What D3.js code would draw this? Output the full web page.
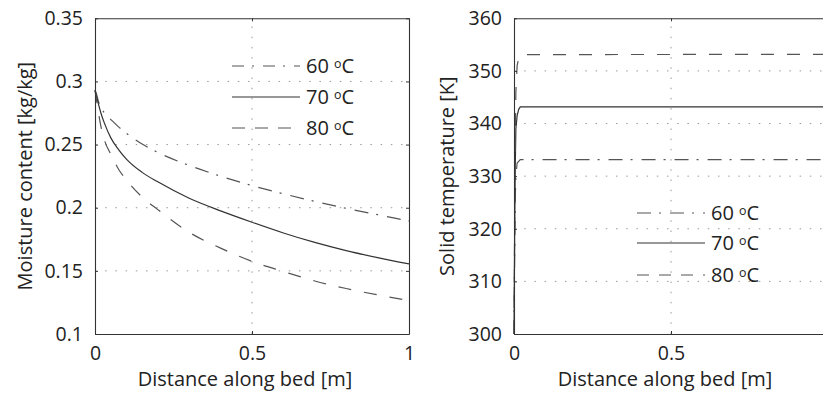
<!DOCTYPE html>
<html>
<head>
<meta charset="utf-8">
<script src="https://cdn.jsdelivr.net/npm/d3@7/dist/d3.min.js"></script>
<style>
  html, body { margin: 0; padding: 0; background: #fff; overflow: hidden; }
  svg { display: block; font-family: "Open Sans", sans-serif; }
</style>
</head>
<body>
<svg id="chart" width="823" height="394"></svg>
<script>
// ---------- data ----------
const xDist = [0, 0.005, 0.01, 0.02, 0.03, 0.05, 0.075, 0.1, 0.15, 0.2, 0.3, 0.4, 0.5, 0.6, 0.7, 0.8, 0.9, 1.0];
const moist60 = [0.293, 0.290, 0.285, 0.279, 0.275, 0.270, 0.264, 0.259, 0.2505, 0.2438, 0.2335, 0.225, 0.2175, 0.211, 0.205, 0.1995, 0.1945, 0.1895];
const moist70 = [0.293, 0.288, 0.283, 0.274, 0.267, 0.2555, 0.246, 0.2385, 0.228, 0.2205, 0.2075, 0.1975, 0.1885, 0.180, 0.1725, 0.166, 0.1605, 0.1555];
const moist80 = [0.293, 0.285, 0.277, 0.263, 0.2535, 0.2425, 0.2305, 0.222, 0.2085, 0.1985, 0.1805, 0.168, 0.1575, 0.1495, 0.142, 0.136, 0.131, 0.1265];

const xTemp60 = [0, 0.002, 0.004, 0.006, 0.01, 0.02, 1.0];
const temp60  = [300, 315, 326, 330, 332.5, 333.15, 333.15];
const xTemp70 = [0, 0.002, 0.004, 0.006, 0.01, 0.015, 0.02, 1.0];
const temp70  = [300, 318, 332, 339, 341.5, 342.7, 343.15, 343.15];
const xTemp80 = [0, 0.002, 0.004, 0.006, 0.01, 0.015, 0.025, 1.0];
const temp80  = [300, 320, 338, 346, 351, 352.5, 353.1, 353.15];

const seriesLabels = ["60", "70", "80"];
const xTicksLeft = [0, 0.5, 1];
const xTickLabelsLeft = ["0", "0.5", "1"];
const xTicksRight = [0, 0.5];
const xTickLabelsRight = ["0", "0.5"];
const yTicksLeft = [0.1, 0.15, 0.2, 0.25, 0.3, 0.35];
const yTickLabelsLeft = ["0.1", "0.15", "0.2", "0.25", "0.3", "0.35"];
const yTicksRight = [300, 310, 320, 330, 340, 350, 360];
const yTickLabelsRight = ["300", "310", "320", "330", "340", "350", "360"];

// ---------- styles ----------
const styles = [
  { dash: "14,8,2,9", color: "#555", width: 1.2 },   // 60
  { dash: null,       color: "#333", width: 1.2 },   // 70
  { dash: "13,13",    color: "#555", width: 1.2 }    // 80
];

const svg = d3.select("#chart");
const tickFont = 19.5, titleFont = 20, legendFont = 20;

function panel(opts) {
  const { x, y, xTicks, xLabels, yTicks, yLabels, xTitle, yTitle, yTitleX, xTitleCx, series, legend, curve } = opts;
  const g = svg.append("g");
  const [x0, x1] = x.range();
  const [y0, y1] = y.range(); // y0 bottom, y1 top

  // grid
  g.append("g").selectAll("line").data(yTicks.filter(t => y(t) > y1 + 1 && y(t) < y0 - 1)).join("line")
    .attr("x1", x0).attr("x2", x1).attr("y1", d => y(d)).attr("y2", d => y(d))
    .attr("stroke", "#999").attr("stroke-width", 1).attr("stroke-dasharray", "1.5,8.7");
  g.append("g").selectAll("line").data(xTicks.filter(t => x(t) > x0 + 1 && x(t) < x1 - 1)).join("line")
    .attr("x1", d => x(d)).attr("x2", d => x(d)).attr("y1", y0).attr("y2", y1)
    .attr("stroke", "#999").attr("stroke-width", 1).attr("stroke-dasharray", "1.5,8.7");

  // series
  const line = d3.line().curve(curve).x(d => x(d[0])).y(d => y(d[1]));
  series.forEach((s, i) => {
    const pts = s.xs.map((v, k) => [v, s.ys[k]]);
    g.append("path").datum(pts).attr("d", line)
      .attr("fill", "none").attr("stroke", styles[i].color)
      .attr("stroke-width", styles[i].width)
      .attr("stroke-dasharray", styles[i].dash);
  });

  // axes via d3
  const ax = d3.axisBottom(x).tickValues(xTicks).tickFormat((d, i) => xLabels[i]).tickSizeInner(-3).tickSizeOuter(0).tickPadding(12);
  const gx = g.append("g").attr("transform", `translate(0,${y0})`).call(ax);
  const ay = d3.axisLeft(y).tickValues(yTicks).tickFormat((d, i) => yLabels[i]).tickSizeInner(-3).tickSizeOuter(0).tickPadding(12);
  const gy = g.append("g").attr("transform", `translate(${x0},0)`).call(ay);
  const axTop = d3.axisTop(x).tickValues(xTicks).tickFormat("").tickSizeInner(-3).tickSizeOuter(0);
  const gt = g.append("g").attr("transform", `translate(0,${y1})`).call(axTop);
  const ayR = d3.axisRight(y).tickValues(yTicks).tickFormat("").tickSizeInner(-3).tickSizeOuter(0);
  const gr = g.append("g").attr("transform", `translate(${x1},0)`).call(ayR);
  [gx, gy, gt, gr].forEach(a => {
    a.select(".domain").attr("stroke", "#333").attr("stroke-width", 1.1);
    a.selectAll(".tick line").attr("stroke", "#333");
    a.selectAll("text").attr("font-family", "Open Sans, sans-serif").attr("font-size", tickFont).attr("fill", "#222");
  });
  gx.selectAll("text").attr("dy", "0.71em");

  // titles
  g.append("text").attr("x", xTitleCx).attr("y", 386).attr("text-anchor", "middle")
    .attr("font-size", titleFont).attr("fill", "#222").text(xTitle);
  g.append("text").attr("transform", `translate(${yTitleX},${(y0 + y1) / 2}) rotate(-90)`)
    .attr("text-anchor", "middle").attr("font-size", titleFont).attr("fill", "#222").text(yTitle);

  // legend
  legend.ys.forEach((ly, i) => {
    g.append("line").attr("x1", legend.x1).attr("x2", legend.x2).attr("y1", ly).attr("y2", ly)
      .attr("stroke", styles[i].color).attr("stroke-width", styles[i].width)
      .attr("stroke-dasharray", legend.dashes[i]);
    const t = g.append("text").attr("x", legend.tx).attr("y", ly + 7)
      .attr("font-size", legendFont).attr("fill", "#222");
    t.append("tspan").text(seriesLabels[i] + " ");
    t.append("tspan").attr("font-size", legendFont * 0.62).attr("dy", -5.5).text("o");
    t.append("tspan").attr("dy", 5.5).text("C");
  });
}

const xL = d3.scaleLinear([0, 1], [95, 409]);
const yL = d3.scaleLinear([0.1, 0.35], [334, 18.3]);
panel({
  x: xL, y: yL, xTicks: xTicksLeft, xLabels: xTickLabelsLeft, yTicks: yTicksLeft, yLabels: yTickLabelsLeft,
  xTitle: "Distance along bed [m]", yTitle: "Moisture content [kg/kg]", yTitleX: 32, xTitleCx: 245,
  curve: d3.curveMonotoneX,
  series: [{ xs: xDist, ys: moist60 }, { xs: xDist, ys: moist70 }, { xs: xDist, ys: moist80 }],
  legend: { x1: 232, x2: 300, tx: 306, ys: [66, 97, 128], dashes: ["12,8,2,9", null, "13,10"] }
});

const xR = d3.scaleLinear([0, 1], [514, 828]);
const yR = d3.scaleLinear([300, 360], [334, 18.3]);
panel({
  x: xR, y: yR, xTicks: xTicksRight, xLabels: xTickLabelsRight, yTicks: yTicksRight, yLabels: yTickLabelsRight,
  xTitle: "Distance along bed [m]", yTitle: "Solid temperature [K]", yTitleX: 454, xTitleCx: 665,
  curve: d3.curveLinear,
  series: [{ xs: xTemp60, ys: temp60 }, { xs: xTemp70, ys: temp70 }, { xs: xTemp80, ys: temp80 }],
  legend: { x1: 637, x2: 705, tx: 711, ys: [213, 243, 275], dashes: ["14,8,2,9", null, "12,10"] }
});
</script>
</body>
</html>
